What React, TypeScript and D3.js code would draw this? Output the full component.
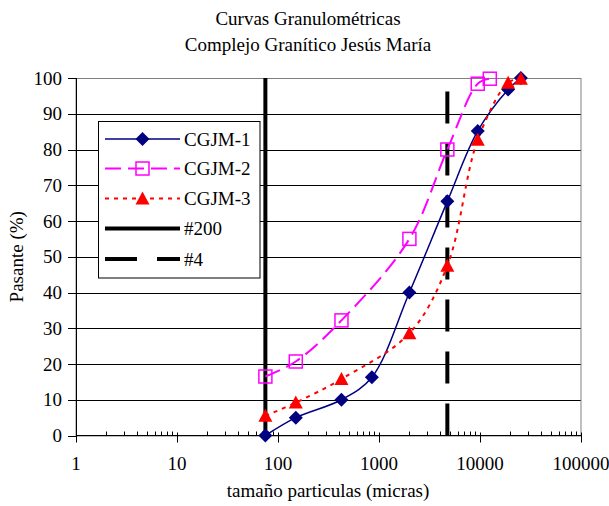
import * as d3 from 'd3';

// sieve sizes (micras) and % passing for each sample
const sizes1 = [75, 150, 425, 850, 2000, 4750, 9500, 19000, 25400];
const cgjm1 = [0, 5, 10, 16.3, 40, 65.5, 85.2, 96.8, 100];
const sizes2 = [75, 150, 425, 2000, 4750, 9500, 12500];
const cgjm2 = [16.5, 20.7, 32.2, 55, 80, 98.4, 99.8];
const sizes3 = [75, 150, 425, 2000, 4750, 9500, 19000, 25400];
const cgjm3 = [5.5, 9.2, 15.8, 28.6, 47.5, 82.7, 98.7, 99.8];

// reference sieves
const sieve200 = 75;
const sieve4 = 4750;

const xTickValues = [1, 10, 100, 1000, 10000, 100000];
const yTickValues = [0, 10, 20, 30, 40, 50, 60, 70, 80, 90, 100];
const legendLabels = ['CGJM-1', 'CGJM-2', 'CGJM-3', '#200', '#4'];

const WIDTH = 609;
const HEIGHT = 506;
const PLOT = { left: 76, right: 581, top: 78, bottom: 435.5 };
const FONT = '"Liberation Serif", "Times New Roman", serif';

const NAVY = '#000080';
const MAGENTA = '#ff00ff';
const RED = '#ff0000';

type Pt = { x: number; y: number };

const diamond = (cx: number, cy: number, r = 7) =>
  `M${cx},${cy - r}L${cx + r},${cy}L${cx},${cy + r}L${cx - r},${cy}Z`;
const triangle = (cx: number, cy: number) =>
  `M${cx},${cy - 7}L${cx + 7},${cy + 6}L${cx - 7},${cy + 6}Z`;

export default function App() {
  const x = d3.scaleLog().domain([1, 100000]).range([PLOT.left, PLOT.right]);
  const y = d3.scaleLinear().domain([0, 100]).range([PLOT.bottom, PLOT.top]);

  const toPts = (xs: number[], ys: number[]): Pt[] => xs.map((v, i) => ({ x: x(v), y: y(ys[i]) }));
  const s1 = toPts(sizes1, cgjm1);
  const s2 = toPts(sizes2, cgjm2);
  const s3 = toPts(sizes3, cgjm3);

  const line = d3
    .line<Pt>()
    .x((d) => d.x)
    .y((d) => d.y)
    .curve(d3.curveCatmullRom.alpha(0.5));

  // minor ticks 2..9 per decade
  const minorTicks: number[] = [];
  for (let p = 0; p < 5; p++) {
    for (let m = 2; m <= 9; m++) minorTicks.push(m * Math.pow(10, p));
  }

  const legendRows = [139, 168.5, 198.5, 228.5, 259];
  const lx0 = 105;
  const lx1 = 180;
  const lmid = 142.5;

  return (
    <svg
      width={WIDTH}
      height={HEIGHT}
      viewBox={`0 0 ${WIDTH} ${HEIGHT}`}
      style={{ position: 'absolute', left: 0, top: 0, background: '#fff' }}
      fontFamily={FONT}
    >
      {/* title */}
      <text x={308} y={25} textAnchor="middle" fontSize={19} fill="#000">
        Curvas Granulométricas
      </text>
      <text x={308} y={51} textAnchor="middle" fontSize={19} fill="#000">
        Complejo Granítico Jesús María
      </text>

      {/* gridlines */}
      {yTickValues
        .filter((v) => v > 0 && v < 100)
        .map((v) => (
          <line
            key={`g${v}`}
            x1={PLOT.left}
            x2={PLOT.right}
            y1={Math.round(y(v)) + 0.5}
            y2={Math.round(y(v)) + 0.5}
            stroke="#000"
            strokeWidth={1}
          />
        ))}
      <rect
        x={PLOT.left}
        y={Math.round(y(100)) + 0.5}
        width={PLOT.right - PLOT.left}
        height={y(0) - y(100)}
        fill="none"
        stroke="#808080"
        strokeWidth={1}
      />

      {/* axes */}
      <line x1={PLOT.left + 0.5} x2={PLOT.left + 0.5} y1={y(100)} y2={y(0)} stroke="#000" />
      <line x1={PLOT.left} x2={PLOT.right} y1={y(0)} y2={y(0)} stroke="#000" />
      {yTickValues.map((v) => (
        <g key={`yt${v}`}>
          <line
            x1={PLOT.left - 8}
            x2={PLOT.left}
            y1={Math.round(y(v)) + 0.5}
            y2={Math.round(y(v)) + 0.5}
            stroke="#000"
          />
          <text x={62} y={y(v)} dy="0.35em" textAnchor="end" fontSize={19}>
            {v}
          </text>
        </g>
      ))}
      {xTickValues.map((v) => (
        <g key={`xt${v}`}>
          <line
            x1={Math.round(x(v)) + 0.5}
            x2={Math.round(x(v)) + 0.5}
            y1={y(0) - 3}
            y2={y(0) + 7}
            stroke="#000"
          />
          <text x={x(v)} y={470} textAnchor="middle" fontSize={19}>
            {v}
          </text>
        </g>
      ))}
      {minorTicks.map((v) => (
        <line
          key={`mt${v}`}
          x1={Math.round(x(v)) + 0.5}
          x2={Math.round(x(v)) + 0.5}
          y1={y(0) - 4}
          y2={y(0)}
          stroke="#000"
        />
      ))}

      {/* axis titles */}
      <text x={328} y={497} textAnchor="middle" fontSize={19}>
        tamaño particulas (micras)
      </text>
      <text
        transform={`translate(23, ${(PLOT.top + PLOT.bottom) / 2}) rotate(-90)`}
        textAnchor="middle"
        fontSize={19}
      >
        Pasante (%)
      </text>

      {/* reference sieves */}
      <line x1={x(sieve200)} x2={x(sieve200)} y1={y(0)} y2={y(100)} stroke="#000" strokeWidth={4} />
      <line
        x1={x(sieve4)}
        x2={x(sieve4)}
        y1={y(0)}
        y2={y(100)}
        stroke="#000"
        strokeWidth={4}
        strokeDasharray="32,20"
      />

      {/* series lines */}
      <path d={line(s1) ?? ''} fill="none" stroke={NAVY} strokeWidth={1.5} />
      <path d={line(s2) ?? ''} fill="none" stroke={MAGENTA} strokeWidth={2} strokeDasharray="16,7" />
      <path d={line(s3) ?? ''} fill="none" stroke={RED} strokeWidth={2} strokeDasharray="4,5" />

      {/* markers */}
      {s1.map((p, i) => (
        <path key={`d${i}`} d={diamond(p.x, p.y)} fill={NAVY} />
      ))}
      {s2.map((p, i) => (
        <rect
          key={`s${i}`}
          x={p.x - 6.5}
          y={p.y - 6.5}
          width={13}
          height={13}
          fill="none"
          stroke={MAGENTA}
          strokeWidth={1.5}
        />
      ))}
      {s3.map((p, i) => (
        <path key={`t${i}`} d={triangle(p.x, p.y)} fill={RED} />
      ))}

      {/* legend */}
      <rect x={98.5} y={121.5} width={161.5} height={156.5} fill="#fff" stroke="#000" strokeWidth={1} />
      <line x1={lx0} x2={lx1} y1={legendRows[0]} y2={legendRows[0]} stroke={NAVY} strokeWidth={1.5} />
      <path d={diamond(lmid, legendRows[0])} fill={NAVY} />
      <line
        x1={lx0}
        x2={lx1}
        y1={legendRows[1]}
        y2={legendRows[1]}
        stroke={MAGENTA}
        strokeWidth={2}
        strokeDasharray="16,7"
      />
      <rect
        x={lmid - 6.5}
        y={legendRows[1] - 6.5}
        width={13}
        height={13}
        fill="none"
        stroke={MAGENTA}
        strokeWidth={1.5}
      />
      <line
        x1={lx0}
        x2={lx1}
        y1={legendRows[2]}
        y2={legendRows[2]}
        stroke={RED}
        strokeWidth={2}
        strokeDasharray="4,5"
      />
      <path d={triangle(lmid, legendRows[2])} fill={RED} />
      <line x1={lx0} x2={lx1} y1={legendRows[3]} y2={legendRows[3]} stroke="#000" strokeWidth={4} />
      <line
        x1={lx0}
        x2={lx1}
        y1={legendRows[4]}
        y2={legendRows[4]}
        stroke="#000"
        strokeWidth={4}
        strokeDasharray="32,20"
      />
      {legendLabels.map((t, i) => (
        <text key={t} x={184} y={legendRows[i]} dy="0.35em" fontSize={19}>
          {t}
        </text>
      ))}
    </svg>
  );
}
